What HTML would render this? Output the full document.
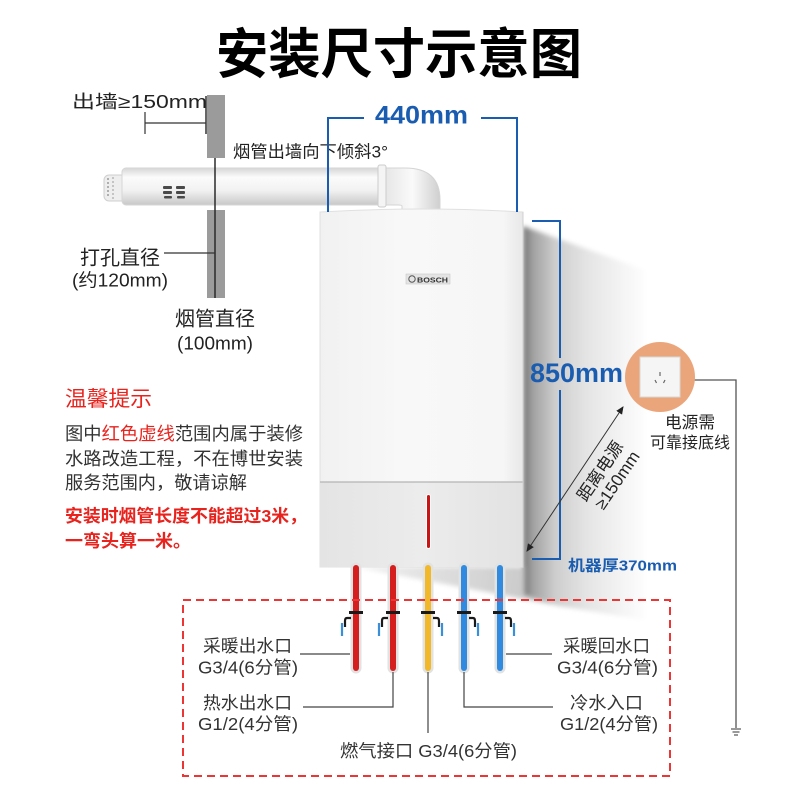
<!DOCTYPE html>
<html><head><meta charset="utf-8">
<style>
html,body{margin:0;padding:0;background:#fff;}
svg{display:block;}
text{font-family:"Liberation Sans","Noto Sans CJK SC",sans-serif;}
</style></head>
<body>
<svg width="800" height="800" viewBox="0 0 800 800" xmlns="http://www.w3.org/2000/svg">
<defs>
  <linearGradient id="sideSh" x1="523" y1="0" x2="650" y2="0" gradientUnits="userSpaceOnUse">
    <stop offset="0" stop-color="#747474"/>
    <stop offset="0.08" stop-color="#a2a2a2"/>
    <stop offset="0.25" stop-color="#cdcdcd"/>
    <stop offset="0.5" stop-color="#e4e4e4"/>
    <stop offset="0.8" stop-color="#f5f5f5"/>
    <stop offset="1" stop-color="#ffffff"/>
  </linearGradient>
  <linearGradient id="underSh" x1="360" y1="567" x2="560" y2="600" gradientUnits="userSpaceOnUse">
    <stop offset="0" stop-color="#f0f0f0"/>
    <stop offset="1" stop-color="#c2c2c2"/>
  </linearGradient>
  <filter id="blur" x="-10%" y="-10%" width="120%" height="120%"><feGaussianBlur stdDeviation="2.5"/></filter>
  <linearGradient id="pipeG" x1="0" y1="0" x2="0" y2="1">
    <stop offset="0" stop-color="#d6d6d6"/>
    <stop offset="0.25" stop-color="#fbfbfb"/>
    <stop offset="0.6" stop-color="#f2f2f2"/>
    <stop offset="1" stop-color="#c8c8c8"/>
  </linearGradient>
  <linearGradient id="elbG" x1="0" y1="0" x2="1" y2="0">
    <stop offset="0" stop-color="#e6e6e6"/>
    <stop offset="0.5" stop-color="#fafafa"/>
    <stop offset="1" stop-color="#cfcfcf"/>
  </linearGradient>
  <linearGradient id="frontG" x1="0" y1="0" x2="1" y2="0">
    <stop offset="0" stop-color="#f1f1f1"/>
    <stop offset="0.4" stop-color="#f8f8f8"/>
    <stop offset="0.9" stop-color="#f6f6f6"/>
    <stop offset="1" stop-color="#e8e8e8"/>
  </linearGradient>
  <linearGradient id="botG" x1="0" y1="0" x2="1" y2="0">
    <stop offset="0" stop-color="#e4e4e4"/>
    <stop offset="0.5" stop-color="#ececec"/>
    <stop offset="1" stop-color="#e2e2e2"/>
  </linearGradient>
  <marker id="ah" markerWidth="8" markerHeight="8" refX="7" refY="4" orient="auto" markerUnits="userSpaceOnUse">
    <path d="M0,0.5 L8,4 L0,7.5 Z" fill="#222"/>
  </marker>
  <marker id="ahs" markerWidth="8" markerHeight="8" refX="1" refY="4" orient="auto" markerUnits="userSpaceOnUse">
    <path d="M8,0.5 L0,4 L8,7.5 Z" fill="#222"/>
  </marker>
</defs>

<!-- Title -->
<text x="216" y="73" font-size="54" font-weight="bold" fill="#000" textLength="366" lengthAdjust="spacingAndGlyphs">安装尺寸示意图</text>

<!-- wall & flue dimensions -->
<text x="72" y="108" font-size="18" fill="#222" textLength="135" lengthAdjust="spacingAndGlyphs">出墙≥150mm</text>
<line x1="145" y1="123" x2="206" y2="123" stroke="#333" stroke-width="1.2"/>
<line x1="145" y1="112" x2="145" y2="134" stroke="#333" stroke-width="1.2"/>
<line x1="206" y1="96" x2="206" y2="134" stroke="#333" stroke-width="1.5"/>
<rect x="207" y="95" width="18" height="63" fill="#9b9b9b"/>
<rect x="207" y="210" width="18" height="88" fill="#9b9b9b"/>

<text x="233" y="157.5" font-size="17" fill="#222" textLength="155" lengthAdjust="spacingAndGlyphs">烟管出墙向下倾斜3°</text>

<!-- flue pipe -->
<rect x="104" y="175" width="22" height="26" rx="5" fill="#eeeeee" stroke="#cfcfcf" stroke-width="1"/>
<line x1="108" y1="178" x2="108" y2="198" stroke="#9a9a9a" stroke-width="1.5" stroke-dasharray="2 2"/>
<line x1="113" y1="177" x2="113" y2="199" stroke="#b5b5b5" stroke-width="1.5" stroke-dasharray="2 2"/>
<path d="M405,168 Q440,168 440,200 L440,212 L402,212 L402,206 Q402,205 398,205 L385,205 L385,168 Z" fill="url(#elbG)" stroke="#d4d4d4" stroke-width="1"/>
<rect x="122" y="168" width="262" height="37" rx="4" fill="url(#pipeG)" stroke="#d6d6d6" stroke-width="1"/>
<rect x="378" y="165" width="8" height="42" rx="2" fill="#f4f4f4" stroke="#cccccc" stroke-width="1"/>
<g fill="#4a4a4a">
  <rect x="163" y="186" width="9" height="3" rx="1"/>
  <rect x="163" y="191" width="9" height="3" rx="1"/>
  <rect x="164" y="196" width="8" height="2.5" rx="1"/>
  <rect x="176" y="186" width="9" height="3" rx="1"/>
  <rect x="176" y="191" width="9" height="3" rx="1"/>
  <rect x="177" y="196" width="8" height="2.5" rx="1"/>
</g>
<line x1="215" y1="158" x2="215" y2="298" stroke="#2b2b2b" stroke-width="1.5"/>

<text x="80" y="264.5" font-size="20" fill="#222" textLength="80" lengthAdjust="spacingAndGlyphs">打孔直径</text>
<line x1="164" y1="253" x2="215" y2="253" stroke="#333" stroke-width="1.2"/>
<text x="72" y="286.5" font-size="18" fill="#222" textLength="96" lengthAdjust="spacingAndGlyphs">(约120mm)</text>
<text x="175" y="325.5" font-size="20" fill="#222" textLength="80" lengthAdjust="spacingAndGlyphs">烟管直径</text>
<text x="177" y="349.5" font-size="18" fill="#222" textLength="76" lengthAdjust="spacingAndGlyphs">(100mm)</text>

<!-- Notes -->
<text x="65" y="406" font-size="21" fill="#e8231d" textLength="87" lengthAdjust="spacingAndGlyphs">温馨提示</text>
<text x="65" y="440" font-size="18" fill="#333" textLength="238" lengthAdjust="spacingAndGlyphs">图中<tspan fill="#e8231d">红色虚线</tspan>范围内属于装修</text>
<text x="65" y="465" font-size="18" fill="#333" textLength="238" lengthAdjust="spacingAndGlyphs">水路改造工程，不在博世安装</text>
<text x="65" y="489" font-size="18" fill="#333" textLength="182" lengthAdjust="spacingAndGlyphs">服务范围内，敬请谅解</text>
<text x="65" y="522" font-size="17.5" font-weight="bold" fill="#e8231d" textLength="242" lengthAdjust="spacingAndGlyphs">安装时烟管长度不能超过3米，</text>
<text x="65" y="547" font-size="17.5" font-weight="bold" fill="#e8231d" textLength="126" lengthAdjust="spacingAndGlyphs">一弯头算一米。</text>

<!-- Shadows -->
<g filter="url(#blur)">
  <polygon points="523,226 645,270 645,620 560,606 523,595" fill="url(#sideSh)"/>
  <polygon points="355,567 524,567 524,596 566,607" fill="url(#underSh)"/>
</g>

<!-- Boiler -->
<path d="M320,212 Q420,206 523,212 L523,567 L320,567 Z" fill="url(#frontG)" stroke="#e0e0e0" stroke-width="1"/>
<rect x="320" y="482" width="203" height="85" fill="url(#botG)"/>
<line x1="320" y1="482" x2="523" y2="482" stroke="#b4b4b4" stroke-width="1.2"/>
<line x1="523" y1="212" x2="523" y2="567" stroke="#d0d0d0" stroke-width="1"/>
<rect x="426" y="494" width="5" height="55" rx="2.5" fill="#fff"/>
<rect x="427" y="495" width="3" height="53" rx="1.5" fill="#c81414"/>
<!-- BOSCH logo -->
<rect x="406" y="274" width="44" height="10" fill="#e4e4e4" stroke="#c8c8c8" stroke-width="0.6"/>
<circle cx="412" cy="279" r="3.2" fill="none" stroke="#555" stroke-width="1"/>
<text x="417" y="282.3" font-size="7" font-weight="bold" fill="#333" textLength="31" lengthAdjust="spacingAndGlyphs">BOSCH</text>

<!-- Blue dims -->
<g stroke="#1a5db0" stroke-width="2" fill="none">
  <polyline points="328,212 328,118 364,118"/>
  <polyline points="481,118 517,118 517,212"/>
  <polyline points="532,221 560,221 560,358"/>
  <polyline points="560,390 560,559 532,559"/>
</g>
<text x="375" y="123.5" font-size="25" font-weight="bold" fill="#1a5db0" textLength="93" lengthAdjust="spacingAndGlyphs">440mm</text>
<text x="530" y="382" font-size="27" font-weight="bold" fill="#1a5db0" textLength="93" lengthAdjust="spacingAndGlyphs">850mm</text>
<text x="568" y="570.5" font-size="15" font-weight="bold" fill="#1a5db0" textLength="109" lengthAdjust="spacingAndGlyphs">机器厚370mm</text>

<!-- diagonal arrow -->
<line x1="527" y1="551" x2="623" y2="407" stroke="#333" stroke-width="1" marker-end="url(#ah)" marker-start="url(#ahs)"/>
<g transform="translate(600,471) rotate(-56)">
  <text x="0" y="6" font-size="17" fill="#222" text-anchor="middle">距离电源</text>
</g>
<g transform="translate(617,480) rotate(-56)">
  <text x="0" y="6" font-size="17" fill="#222" text-anchor="middle">≥150mm</text>
</g>

<!-- socket -->
<polyline points="694,380 736,380 736,728" fill="none" stroke="#555" stroke-width="1.3"/>
<g stroke="#555" stroke-width="1.2">
  <line x1="731" y1="729" x2="741" y2="729"/>
  <line x1="732.5" y1="732" x2="739.5" y2="732"/>
  <line x1="734" y1="735" x2="738" y2="735"/>
</g>
<circle cx="660" cy="377" r="35" fill="#eba57a"/>
<rect x="640" y="357" width="40" height="40" fill="#f5f5f5" stroke="#d8d8d8" stroke-width="1"/>
<g stroke="#666" stroke-width="1.2">
  <line x1="660" y1="372" x2="660" y2="376"/>
  <line x1="655" y1="380" x2="656.5" y2="383"/>
  <line x1="665" y1="380" x2="663.5" y2="383"/>
</g>
<text x="665" y="428" font-size="16.5" fill="#222" textLength="50" lengthAdjust="spacingAndGlyphs">电源需</text>
<text x="650" y="448" font-size="16" fill="#222" textLength="80" lengthAdjust="spacingAndGlyphs">可靠接底线</text>

<!-- Pipes -->
<g stroke-linecap="round">
  <line x1="356" y1="568" x2="356" y2="668" stroke="#e2e2e2" stroke-width="11"/>
  <line x1="356" y1="568" x2="356" y2="668" stroke="#d51f1f" stroke-width="6"/>
  <line x1="393" y1="568" x2="393" y2="668" stroke="#e2e2e2" stroke-width="11"/>
  <line x1="393" y1="568" x2="393" y2="668" stroke="#d51f1f" stroke-width="6"/>
  <line x1="428" y1="568" x2="428" y2="668" stroke="#e2e2e2" stroke-width="11"/>
  <line x1="428" y1="568" x2="428" y2="668" stroke="#f0b82a" stroke-width="6"/>
  <line x1="464" y1="568" x2="464" y2="668" stroke="#e2e2e2" stroke-width="11"/>
  <line x1="464" y1="568" x2="464" y2="668" stroke="#2f8ae0" stroke-width="6"/>
  <line x1="500" y1="568" x2="500" y2="668" stroke="#e2e2e2" stroke-width="11"/>
  <line x1="500" y1="568" x2="500" y2="668" stroke="#2f8ae0" stroke-width="6"/>
</g>
<g fill="#1a1a1a">
  <rect x="349" y="611" width="14" height="3"/>
  <rect x="386" y="611" width="14" height="3"/>
  <rect x="421" y="611" width="14" height="3"/>
  <rect x="457" y="611" width="14" height="3"/>
  <rect x="493" y="611" width="14" height="3"/>
</g>
<g fill="none" stroke-width="2.2">
  <path d="M351,618 H347 Q345,618 345,621 V627" stroke="#1a1a1a"/>
  <path d="M342,623 V636" stroke="#3a8fd8"/>
  <path d="M388,618 H384 Q382,618 382,621 V627" stroke="#1a1a1a"/>
  <path d="M379,623 V636" stroke="#3a8fd8"/>
  <path d="M433,618 H437 Q439,618 439,621 V627" stroke="#1a1a1a"/>
  <path d="M442,623 V636" stroke="#3a8fd8"/>
  <path d="M469,618 H473 Q475,618 475,621 V627" stroke="#1a1a1a"/>
  <path d="M478,623 V636" stroke="#3a8fd8"/>
  <path d="M505,618 H509 Q511,618 511,621 V627" stroke="#1a1a1a"/>
  <path d="M514,623 V636" stroke="#3a8fd8"/>
</g>

<!-- leaders -->
<g stroke="#444" stroke-width="1.2" fill="none">
  <line x1="300" y1="654" x2="350" y2="654"/>
  <polyline points="303,707 393,707 393,672"/>
  <line x1="428" y1="672" x2="428" y2="733"/>
  <polyline points="464,672 464,707 553,707"/>
  <line x1="506" y1="654" x2="552" y2="654"/>
</g>

<!-- red dashed box -->
<rect x="183" y="600" width="487" height="176" fill="none" stroke="#ee3535" stroke-width="2" stroke-dasharray="8 5"/>

<!-- bottom labels -->
<g font-size="17.5" fill="#333">
  <text x="203" y="652" textLength="89" lengthAdjust="spacingAndGlyphs">采暖出水口</text>
  <text x="198" y="673.5" textLength="100" lengthAdjust="spacingAndGlyphs">G3/4(6分管)</text>
  <text x="203" y="709" textLength="89" lengthAdjust="spacingAndGlyphs">热水出水口</text>
  <text x="198" y="730" textLength="100" lengthAdjust="spacingAndGlyphs">G1/2(4分管)</text>
  <text x="340" y="757" textLength="177" lengthAdjust="spacingAndGlyphs">燃气接口 G3/4(6分管)</text>
  <text x="563" y="652" textLength="87" lengthAdjust="spacingAndGlyphs">采暖回水口</text>
  <text x="557" y="673.5" textLength="101" lengthAdjust="spacingAndGlyphs">G3/4(6分管)</text>
  <text x="570" y="709" textLength="73" lengthAdjust="spacingAndGlyphs">冷水入口</text>
  <text x="560" y="730" textLength="98" lengthAdjust="spacingAndGlyphs">G1/2(4分管)</text>
</g>
</svg>
</body></html>
